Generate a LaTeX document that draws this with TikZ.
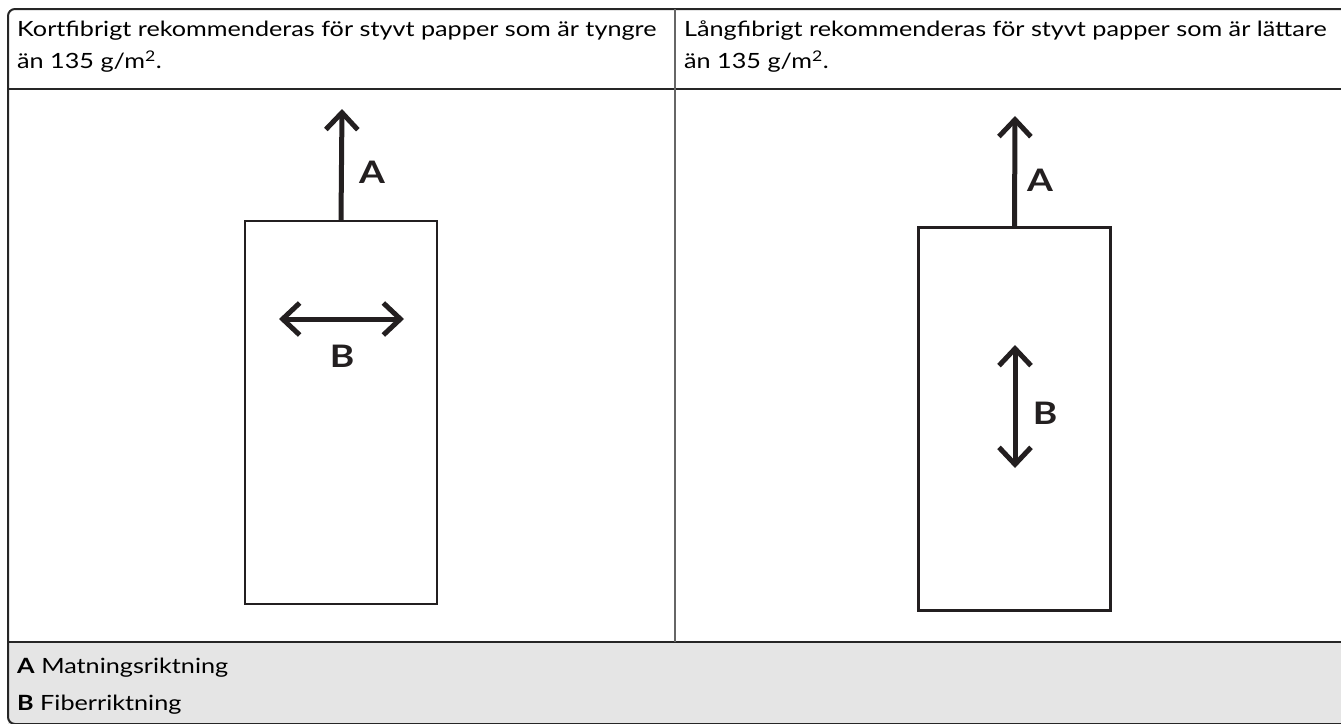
\documentclass[tikz,border=0pt]{standalone}
\usepackage{fontspec}
\setmainfont{Lato}[FakeStretch=1.2]
\usepackage{tikz}
\usetikzlibrary{arrows.meta, positioning}
\definecolor{inkgray}{HTML}{231F20}
\definecolor{legendgray}{HTML}{E5E5E5}
\tikzset{
  rule/.style={line width=2pt, draw=black!85},
  sheet/.style={draw=inkgray, line width=2.2pt, minimum width=192pt, minimum height=383pt, inner sep=0pt},
  dirarrow/.style={draw=inkgray, line width=5pt, {Straight Barb[length=17pt, width=32pt, line width=5pt]}-},
  duoarrow/.style={draw=inkgray, line width=5pt, {Straight Barb[length=17pt, width=32pt, line width=5pt]}-{Straight Barb[length=17pt, width=32pt, line width=5pt]}},
  lbl/.style={font=\fontsize{31}{31}\selectfont\bfseries, text=inkgray, inner sep=0pt},
  headtext/.style={anchor=north west, align=left, font=\fontsize{21}{32}\selectfont, inner sep=0pt},
  keytext/.style={anchor=west, font=\fontsize{21}{24}\selectfont, inner sep=0pt}
}

\begin{document}
\begin{tikzpicture}[x=1pt, y=-1pt]
  \useasboundingbox (0,0) rectangle (1341,723);

  % Legend band
  \fill[legendgray] (8,642) rectangle (1345,724);

  % Table frame
  \draw[rule, rounded corners=7pt] (1345,9) -- (8,9) -- (8,724) -- (1345,724);
  \draw[rule] (8,89) -- (1345,89);
  \draw[rule] (8,642) -- (1345,642);
  \draw[rule, draw=black!60] (675,9) -- (675,642);

  % Header texts
  \node[headtext] (shorthead) at (17,21) {Kortfibrigt rekommenderas för styvt papper som är tyngre\\än 135 g/m\textsuperscript{2}.};
  \node[headtext] (longhead) at (684,21) {Långfibrigt rekommenderas för styvt papper som är lättare\\än 135 g/m\textsuperscript{2}.};

  % Left sheet: short grain
  \node[sheet] (shortsheet) at (341,412.5) {};
  \coordinate (shortfeed) at (342,109);
  \draw[dirarrow] (shortfeed) -- (shortsheet.north);
  \node[lbl] (shortA) at (372,172) {A};
  \coordinate (shortgrainL) at (279,319);
  \coordinate (shortgrainR) at (404,319);
  \draw[duoarrow] (shortgrainL) -- (shortgrainR);
  \node[lbl] (shortB) at (342,356) {B};

  % Right sheet: long grain
  \node[sheet] (longsheet) at (1014.5,419) {};
  \coordinate (longfeed) at (1015,116);
  \draw[dirarrow] (longfeed) -- (longsheet.north);
  \node[lbl] (longA) at (1040,180) {A};
  \coordinate (longgrainT) at (1015,345);
  \coordinate (longgrainB) at (1015,468);
  \draw[duoarrow] (longgrainT) -- (longgrainB);
  \node[lbl] (longB) at (1045,413) {B};

  % Legend
  \node[keytext] (keyA) at (17,668) {\textbf{A} Matningsriktning};
  \node[keytext] (keyB) at (17,705) {\textbf{B} Fiberriktning};
\end{tikzpicture}
\end{document}
